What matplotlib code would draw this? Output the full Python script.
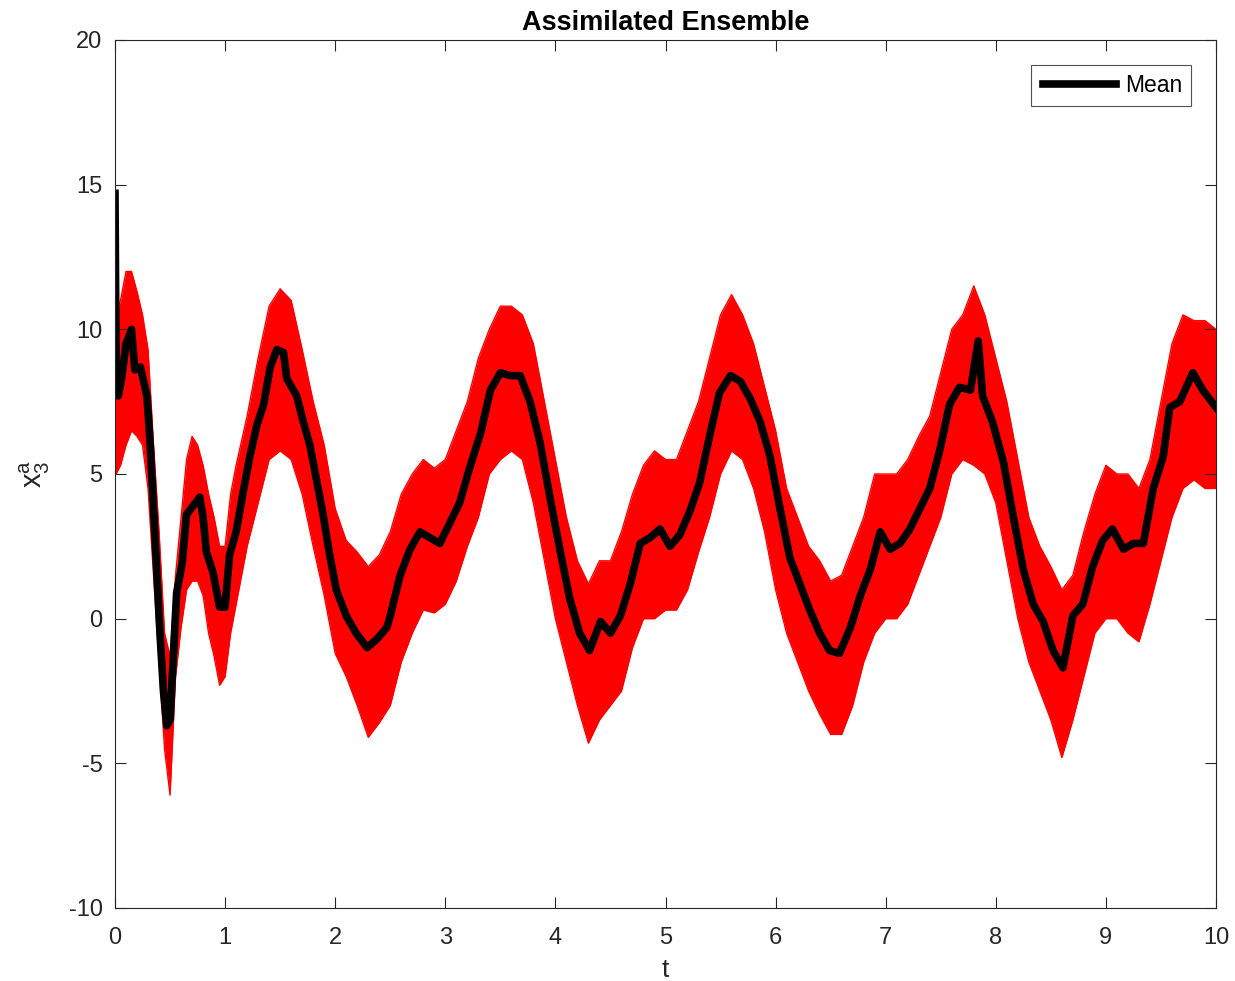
import numpy as np
import matplotlib
matplotlib.use("Agg")
import matplotlib.pyplot as plt
from matplotlib.legend_handler import HandlerLine2D

# ---- Ensemble mean ----
t_mean = [0.0, 0.01, 0.03, 0.06, 0.10, 0.15, 0.18, 0.23, 0.29, 0.32, 0.35, 0.38, 0.41,
          0.44, 0.47, 0.50, 0.53, 0.56, 0.61, 0.65, 0.71, 0.77, 0.80, 0.83, 0.89, 0.95,
          1.00, 1.04, 1.10, 1.17, 1.23, 1.29, 1.35, 1.41, 1.47, 1.53, 1.56, 1.65, 1.71,
          1.77, 1.83, 1.89, 1.95, 2.01, 2.10, 2.19, 2.29, 2.38, 2.47, 2.50, 2.59, 2.68,
          2.77, 2.86, 2.95, 3.04, 3.13, 3.22, 3.32, 3.41, 3.50, 3.59, 3.68, 3.77, 3.86,
          3.95, 4.04, 4.13, 4.22, 4.31, 4.41, 4.50, 4.59, 4.68, 4.77, 4.86, 4.95, 5.04,
          5.13, 5.22, 5.31, 5.40, 5.49, 5.59, 5.68, 5.77, 5.86, 5.95, 6.04, 6.13, 6.22,
          6.31, 6.40, 6.49, 6.58, 6.68, 6.77, 6.86, 6.95, 7.04, 7.13, 7.22, 7.31, 7.40,
          7.49, 7.58, 7.67, 7.77, 7.84, 7.88, 7.97, 8.07, 8.16, 8.25, 8.34, 8.43, 8.52,
          8.61, 8.70, 8.79, 8.88, 8.97, 9.06, 9.16, 9.25, 9.34, 9.43, 9.52, 9.58, 9.67,
          9.79, 9.88, 10.0]
x_mean = [14.7, 8.6, 7.7, 8.3, 9.5, 10.0, 8.6, 8.7, 7.7, 6.0, 3.8, 1.6, -0.6,
          -2.5, -3.7, -3.5, -1.3, 0.9, 1.9, 3.6, 3.9, 4.2, 3.5, 2.3, 1.6, 0.4,
          0.4, 2.2, 3.0, 4.5, 5.7, 6.7, 7.4, 8.7, 9.3, 9.2, 8.3, 7.7, 6.8,
          6.0, 4.8, 3.6, 2.2, 1.0, 0.1, -0.5, -1.0, -0.7, -0.3, 0.1, 1.5, 2.4,
          3.0, 2.8, 2.6, 3.3, 4.0, 5.2, 6.4, 7.9, 8.5, 8.4, 8.4, 7.5, 6.1,
          4.2, 2.4, 0.7, -0.5, -1.1, -0.1, -0.5, 0.1, 1.2, 2.6, 2.8, 3.1, 2.5,
          2.9, 3.7, 4.7, 6.3, 7.8, 8.4, 8.2, 7.6, 6.8, 5.6, 3.8, 2.1, 1.2,
          0.3, -0.5, -1.1, -1.2, -0.3, 0.8, 1.7, 3.0, 2.4, 2.6, 3.1, 3.8, 4.5,
          5.8, 7.4, 8.0, 7.9, 9.6, 7.7, 6.8, 5.4, 3.5, 1.7, 0.5, -0.1, -1.1,
          -1.7, 0.1, 0.5, 1.8, 2.7, 3.1, 2.4, 2.6, 2.6, 4.5, 5.6, 7.3, 7.5,
          8.5, 7.9, 7.3]

# ---- Ensemble spread (upper / lower extent of red members) ----
t_env = [0.0, 0.01, 0.05, 0.1, 0.15, 0.2, 0.25, 0.3, 0.35, 0.4, 0.45, 0.5, 0.55, 0.6,
         0.65, 0.7, 0.75, 0.8, 0.85, 0.9, 0.95, 1.0, 1.05, 1.1, 1.2, 1.3, 1.4, 1.5,
         1.6, 1.7, 1.8, 1.9, 2.0, 2.1, 2.2, 2.3, 2.4, 2.5, 2.6, 2.7, 2.8, 2.9, 3.0,
         3.1, 3.2, 3.3, 3.4, 3.5, 3.6, 3.7, 3.8, 3.9, 4.0, 4.1, 4.2, 4.3, 4.4, 4.5,
         4.6, 4.7, 4.8, 4.9, 5.0, 5.1, 5.2, 5.3, 5.4, 5.5, 5.6, 5.7, 5.8, 5.9, 6.0,
         6.1, 6.2, 6.3, 6.4, 6.5, 6.6, 6.7, 6.8, 6.9, 7.0, 7.1, 7.2, 7.3, 7.4, 7.5,
         7.6, 7.7, 7.8, 7.9, 8.0, 8.1, 8.2, 8.3, 8.4, 8.5, 8.6, 8.7, 8.8, 8.9, 9.0,
         9.1, 9.2, 9.3, 9.4, 9.5, 9.6, 9.7, 9.8, 9.9, 10.0]
x_upper = [16.8, 10.5, 11.0, 12.0, 12.0, 11.3, 10.5, 9.3, 6.0, 3.0, -0.5, -1.3, 1.5, 3.5,
           5.5, 6.3, 6.0, 5.3, 4.3, 3.5, 2.5, 2.5, 4.3, 5.3, 7.0, 9.0, 10.8, 11.4,
           11.0, 9.3, 7.5, 6.0, 3.8, 2.7, 2.3, 1.8, 2.2, 3.0, 4.3, 5.0, 5.5, 5.2, 5.5,
           6.5, 7.5, 9.0, 10.0, 10.8, 10.8, 10.5, 9.5, 7.5, 5.5, 3.5, 2.0, 1.2, 2.0, 2.0,
           3.0, 4.3, 5.3, 5.8, 5.5, 5.5, 6.5, 7.5, 9.0, 10.5, 11.2, 10.5, 9.5, 8.0, 6.5,
           4.5, 3.5, 2.5, 2.0, 1.3, 1.5, 2.5, 3.5, 5.0, 5.0, 5.0, 5.5, 6.3, 7.0, 8.5,
           10.0, 10.5, 11.5, 10.5, 9.0, 7.5, 5.5, 3.5, 2.5, 1.8, 1.0, 1.5, 3.0, 4.3, 5.3,
           5.0, 5.0, 4.5, 5.5, 7.5, 9.5, 10.5, 10.3, 10.3, 10.0]
x_lower = [5.0, 5.0, 5.3, 6.0, 6.5, 6.3, 6.0, 4.5, 1.5, -1.5, -4.5, -6.1, -2.0, -0.3,
           1.0, 1.3, 1.3, 0.8, -0.5, -1.3, -2.3, -2.0, -0.5, 0.5, 2.5, 4.0, 5.5, 5.8,
           5.5, 4.3, 2.5, 0.8, -1.2, -2.0, -3.0, -4.1, -3.6, -3.0, -1.5, -0.5, 0.3, 0.2, 0.5,
           1.3, 2.5, 3.5, 5.0, 5.5, 5.8, 5.5, 4.0, 2.0, 0.0, -1.5, -3.0, -4.3, -3.5, -3.0,
           -2.5, -1.0, 0.0, 0.0, 0.3, 0.3, 1.0, 2.3, 3.5, 5.0, 5.8, 5.5, 4.5, 3.0, 1.0,
           -0.5, -1.5, -2.5, -3.3, -4.0, -4.0, -3.0, -1.5, -0.5, 0.0, 0.0, 0.5, 1.5, 2.5, 3.5,
           5.0, 5.5, 5.3, 5.0, 4.0, 2.0, 0.0, -1.5, -2.5, -3.5, -4.8, -3.5, -2.0, -0.5, 0.0,
           0.0, -0.5, -0.8, 0.5, 2.0, 3.5, 4.5, 4.8, 4.5, 4.5]

x_ticks = [0, 1, 2, 3, 4, 5, 6, 7, 8, 9, 10]
y_ticks = [-10, -5, 0, 5, 10, 15, 20]

plt.rcParams['font.family'] = ['Liberation Sans', 'DejaVu Sans']
plt.rcParams['axes.unicode_minus'] = False

fig = plt.figure(figsize=(12.35, 9.81), dpi=100)
ax = fig.add_axes([115/1235, 1 - 908/981, (1216 - 115)/1235, (908 - 40)/981])

ax.fill_between(t_env, x_lower, x_upper, color='#ff0000', linewidth=0)
ax.plot(t_env, x_upper, color='#ff0000', linewidth=1.0)
ax.plot(t_env, x_lower, color='#ff0000', linewidth=1.0)
mean_line, = ax.plot(t_mean, x_mean, color='black', linewidth=5.5,
                     solid_joinstyle='round', label='Mean')

ax.set_xlim(0, 10)
ax.set_ylim(-10, 20)
ax.set_xticks(x_ticks)
ax.set_yticks(y_ticks)
axc = '#262626'
ax.tick_params(direction='in', length=8, width=0.8, colors=axc, labelsize=17,
               top=True, right=True)
ax.tick_params(axis='x', pad=14)
ax.tick_params(axis='y', pad=9)
for s in ax.spines.values():
    s.set_color(axc)
    s.set_linewidth(0.8)

ax.set_title('Assimilated Ensemble', fontsize=19.5, fontweight='bold', pad=7)
ax.set_xlabel('t', fontsize=19, color=axc, labelpad=6)
ax.set_ylabel(r'$\mathregular{x_3^a}$', fontsize=21, color=axc, labelpad=12)

leg = ax.legend(loc='upper right', fontsize=16.5, frameon=True, fancybox=False,
                handlelength=3.3, handletextpad=0.4, borderpad=0.38,
                borderaxespad=0, bbox_to_anchor=(0.977, 0.971),
                handler_map={mean_line: HandlerLine2D(xpad=0.13)})
leg.get_frame().set_edgecolor(axc)
leg.get_frame().set_linewidth(0.8)

fig.savefig('out.png', dpi=100)
